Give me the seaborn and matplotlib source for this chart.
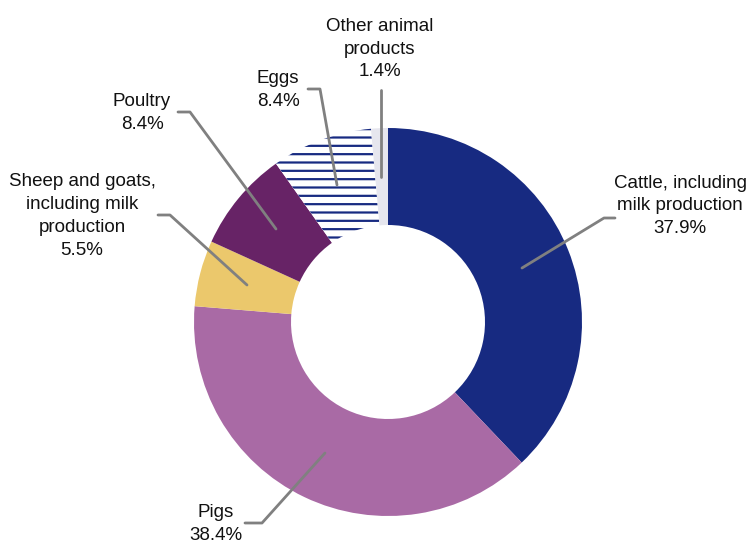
import matplotlib
matplotlib.use("Agg")
import matplotlib.pyplot as plt
import seaborn as sns

# Share of animal output by product
labels = ["Cattle, including\nmilk production", "Pigs", "Sheep and goats,\nincluding milk\nproduction",
          "Poultry", "Eggs", "Other animal\nproducts"]
shares = [37.9, 38.4, 5.5, 8.4, 8.4, 1.4]
colors = ["#172a81", "#a96aa5", "#ebc86c", "#672366", "white", "#e6e6ee"]

sns.set_theme(style="white")
plt.rcParams['font.family'] = ['Liberation Sans Narrow', 'Liberation Sans', 'DejaVu Sans']
plt.rcParams['hatch.linewidth'] = 1.6

fig = plt.figure(figsize=(7.48, 5.45), dpi=100)
ax = fig.add_axes([0, 0, 1, 1])

wedges, _ = ax.pie(shares, colors=colors, startangle=90, counterclock=False,
                   radius=194, wedgeprops=dict(width=97, linewidth=0))
wedges[4].set_hatch("--")
wedges[4].set_edgecolor("#172a81")
wedges[4].set_linewidth(0)

# axes in pixel units, pie centred at (388, 322) from top-left
ax.set_xlim(-388, 748 - 388)
ax.set_ylim(-(545 - 322), 322)
ax.set_aspect("equal")
ax.axis("off")

# label text position and leader line (pixel coords, top-left origin)
label_pos = [(680, 206), (216, 524), (82, 216), (142, 113), (278, 90), (380, 49)]
leaders = [
    [(522, 268), (604, 218), (615, 218)],
    [(325, 453), (262, 523), (245, 523)],
    [(247, 285), (170, 215), (158, 215)],
    [(276, 229), (190, 112), (178, 112)],
    [(337, 185), (320, 89), (308, 89)],
    [(381, 177), (381, 90)],
]

def px(x, y):
    return x - 388, 322 - y

for lab, val, (tx, ty), pts in zip(labels, shares, label_pos, leaders):
    xs, ys = zip(*[px(x, y) for x, y in pts])
    ax.plot(xs, ys, color="#808080", lw=2)
    ax.text(*px(tx, ty), f"{lab}\n{val:.1f}%", ha="center", va="center",
            fontsize=13.5, color="#111111", linespacing=1.45)

fig.savefig("out.png", dpi=100)
